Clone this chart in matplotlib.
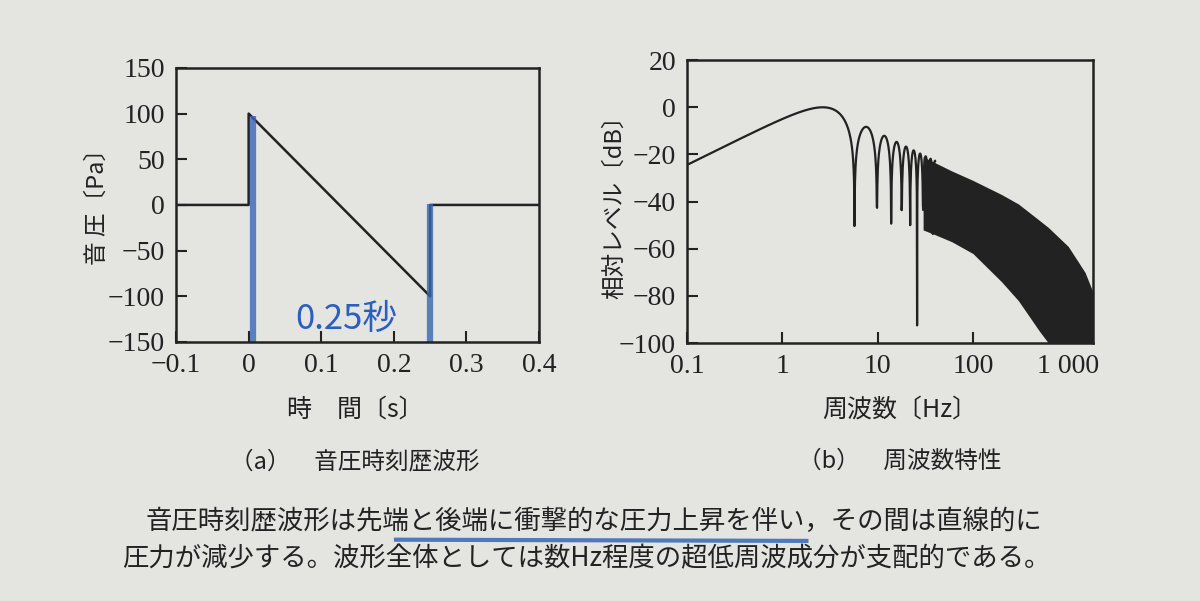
import numpy as np
import matplotlib
matplotlib.use("Agg")
import matplotlib.pyplot as plt

# --- data ---
wave_t = [-0.1, 0.0, 0.0, 0.25, 0.25, 0.4]
wave_p = [0, 0, 100, -100, 0, 0]
left_xticks = [-0.1, 0, 0.1, 0.2, 0.3, 0.4]
left_yticks = [-150, -100, -50, 0, 50, 100, 150]
right_xticks = [0.1, 1, 10, 100, 1000]
right_xticklabels = ["0.1", "1", "10", "100", "1 000"]
right_yticks = [-100, -80, -60, -40, -20, 0, 20]
# envelope of dense high-frequency region
env_f = [30, 40, 60, 100, 200, 300, 500, 620, 1000, 1500, 1800]
env_upper = [-21, -23.5, -27, -31, -37, -41, -48, -51, -59, -70, -78]
env_lower = [-52, -54, -57, -62, -74, -82, -95, -100, -100, -100, -100]

bg = "#e4e4e1"
ink = "#222222"
serif = ["Liberation Serif", "DejaVu Serif"]
cjk = ["Noto Sans CJK JP", "DejaVu Sans"]

fig = plt.figure(figsize=(12, 6.01), dpi=100, facecolor=bg)

# ---- left plot ----
ax1 = fig.add_axes([0.1467, 0.431, 0.3025, 0.456], facecolor=bg)
ax1.plot(wave_t, wave_p, color=ink, lw=1.8)
ax1.set_xlim(-0.1, 0.4)
ax1.set_ylim(-150, 150)
ax1.set_xticks(left_xticks)
ax1.set_xticklabels(["\u22120.1", "0", "0.1", "0.2", "0.3", "0.4"])
ax1.set_yticks(left_yticks)
ax1.set_yticklabels(["\u2212150", "\u2212100", "\u221250", "0", "50", "100", "150"])
for xv, ytop in [(0.006, 97), (0.25, 1)]:
    ax1.plot([xv, xv], [-150, ytop], color="#3567b5", lw=4.5, alpha=0.8, solid_capstyle="butt")
ax1.text(0.135, -125, "0.25秒", color="#2a5fc0", fontsize=25, ha="center", va="center", family=cjk)

# ---- right plot ----
ax2 = fig.add_axes([0.5725, 0.429, 0.338, 0.471], facecolor=bg)
T = 0.25
A = 100.0
f = np.logspace(-1, np.log10(40), 900)
w = 2 * np.pi * f
tt = np.linspace(0, T, 4001)
pp = A * (1 - 2 * tt / T)
F = np.array([np.trapezoid(pp * np.exp(-1j * wi * tt), tt) for wi in w])
db = 20 * np.log10(np.abs(F) + 1e-12)
db -= db.max()
ax2.plot(f, db, color=ink, lw=1.6)
ax2.fill_between(env_f, env_lower, env_upper, color=ink, lw=0)
ax2.set_xscale("log")
ax2.set_xlim(0.1, 1800)
ax2.set_ylim(-100, 20)
ax2.set_xticks(right_xticks)
ax2.set_xticklabels(right_xticklabels)
ax2.xaxis.set_minor_locator(matplotlib.ticker.NullLocator())
ax2.set_yticks(right_yticks)
ax2.set_yticklabels(["\u2212100", "\u221280", "\u221260", "\u221240", "\u221220", "0", "20"])

for ax in (ax1, ax2):
    for s in ax.spines.values():
        s.set_linewidth(1.8)
        s.set_color(ink)
    ax.tick_params(direction="in", length=8, width=1.5, labelsize=20, colors=ink, pad=8)
    for lab in ax.get_xticklabels() + ax.get_yticklabels():
        lab.set_family(serif)

fig.text(0.081, 0.665, "音 圧〔Pa〕", rotation=90, ha="center", va="center", fontsize=17, family=cjk, color=ink)
fig.text(0.512, 0.665, "相対レベル〔dB〕", rotation=90, ha="center", va="center", fontsize=17, family=cjk, color=ink)
fig.text(0.296, 0.318, "時　間〔s〕", ha="center", va="center", fontsize=18, family=cjk, color=ink)
fig.text(0.75, 0.318, "周波数〔Hz〕", ha="center", va="center", fontsize=18, family=cjk, color=ink)
fig.text(0.296, 0.232, "（a）　音圧時刻歴波形", ha="center", va="center", fontsize=17, family=cjk, color=ink)
fig.text(0.75, 0.232, "（b）　周波数特性", ha="center", va="center", fontsize=17, family=cjk, color=ink)
fig.text(0.121, 0.132, "音圧時刻歴波形は先端と後端に衝撃的な圧力上昇を伴い，その間は直線的に",
         ha="left", va="center", fontsize=19, family=cjk, color=ink)
fig.text(0.102, 0.07, "圧力が減少する。波形全体としては数Hz程度の超低周波成分が支配的である。",
         ha="left", va="center", fontsize=19, family=cjk, color=ink)
fig.add_artist(plt.Line2D([0.33, 0.672], [0.102, 0.100], color="#3567b5", lw=3, alpha=0.85))

fig.savefig("out.png", dpi=100, facecolor=bg)
